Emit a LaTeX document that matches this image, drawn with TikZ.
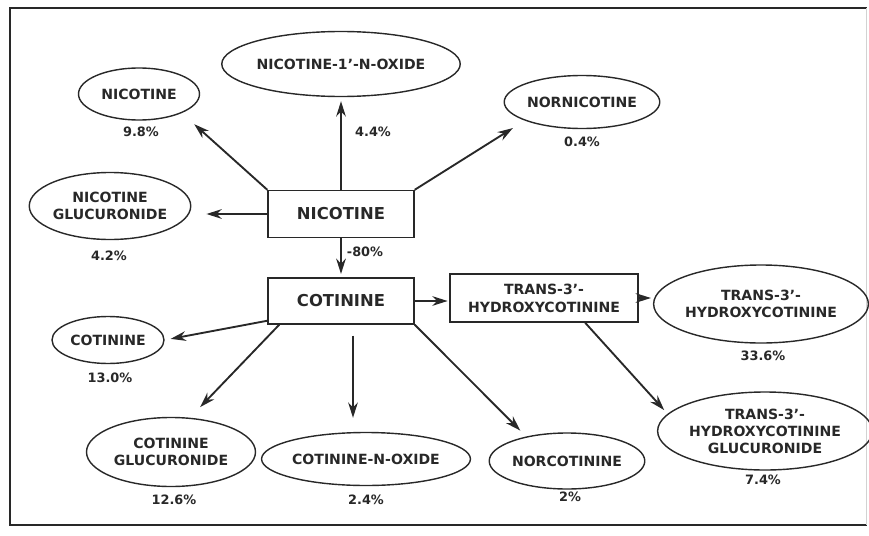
\documentclass[tikz,border=0pt]{standalone}
\usepackage{fontspec}
\setmainfont{DejaVu Sans}
\definecolor{InkGray}{RGB}{40,40,40}
\usepackage{tikz}
\usetikzlibrary{
    shapes.geometric,
    arrows.meta,
    calc,
}

\begin{document}
\begin{tikzpicture}[
    btype/.style 2 args={rectangle, draw=InkGray, line width=1.2pt, minimum width=#1cm, minimum height=#2cm, inner sep=0pt, align=center, text=InkGray},
    etype/.style 2 args={ellipse, draw=InkGray, line width=1.2pt, minimum width=#1cm, minimum height=#2cm, inner sep=0pt, align=center, text=InkGray, font=\bfseries\fontsize{12}{14.5}\selectfont},
    ptype/.style={text=InkGray, font=\bfseries\fontsize{11}{13}\selectfont},
    arr/.style={-{Stealth[length=4.6mm, width=2.9mm]}, draw=InkGray, line width=1.6pt}
]
    \useasboundingbox (0,0) rectangle (26.07,-16.05);
    \draw[InkGray, line width=1.6pt] (26.0,-0.25) -- (0.3,-0.25) -- (0.3,-15.75) -- (26.0,-15.75);
    \draw[gray!35, line width=0.8pt] (26.0,-0.25) -- (26.0,-15.75);

    % main boxes
    \node[btype={4.38}{1.41}, font=\bfseries\fontsize{14}{16}\selectfont] (nic) at (10.23,-6.42) {NICOTINE};
    \node[btype={4.38}{1.38}, font=\bfseries\fontsize{14}{16}\selectfont] (cot) at (10.23,-9.03) {COTININE};
    \node[btype={5.64}{1.44}, font=\bfseries\fontsize{12}{15.5}\selectfont] (thc) at (16.32,-8.94) {TRANS-3'-\\HYDROXYCOTININE};

    % excreted products
    \node[etype={3.63}{1.56}] (nicE)    at ( 4.17, -2.82) {NICOTINE};
    \node[etype={6.33}{1.95}] (nox)     at (10.23, -1.92) {NICOTINE-1'-N-OXIDE};
    \node[etype={4.47}{1.59}] (nornic)  at (17.46, -3.06) {NORNICOTINE};
    \node[etype={4.80}{2.01}] (nicgluc) at ( 3.30, -6.18) {NICOTINE\\GLUCURONIDE};
    \node[etype={3.36}{1.41}] (cotE)    at ( 3.24,-10.20) {COTININE};
    \node[etype={5.07}{2.07}] (cotgluc) at ( 5.13,-13.56) {COTININE\\GLUCURONIDE};
    \node[etype={5.34}{1.59}] (cotox)   at (10.98,-13.77) {COTININE-N-OXIDE};
    \node[etype={4.38}{1.68}] (norcot)  at (17.01,-13.83) {NORCOTININE};
    \node[etype={5.49}{2.34}] (thcE)    at (22.83, -9.12) {TRANS-3'-\\HYDROXYCOTININE};
    \node[etype={5.52}{2.34}] (thcgluc) at (22.95,-12.93) {TRANS-3'-\\HYDROXYCOTININE\\GLUCURONIDE};

    % percentages
    \node[ptype] (pNicE)    at ( 4.23, -3.96) {9.8\%};
    \node[ptype] (pNox)     at (11.19, -3.96) {4.4\%};
    \node[ptype] (pNornic)  at (17.46, -4.26) {0.4\%};
    \node[ptype] (pNicgluc) at ( 3.27, -7.68) {4.2\%};
    \node[ptype] (pCot)     at (10.95, -7.56) {-80\%};
    \node[ptype] (pCotE)    at ( 3.30,-11.34) {13.0\%};
    \node[ptype] (pCotgluc) at ( 5.22,-15.00) {12.6\%};
    \node[ptype] (pCotox)   at (10.98,-15.00) {2.4\%};
    \node[ptype] (pNorcot)  at (17.10,-14.91) {2\%};
    \node[ptype] (pThcE)    at (22.89,-10.68) {33.6\%};
    \node[ptype] (pThcgluc) at (22.89,-14.40) {7.4\%};

    % nicotine arrows
    \draw[arr, shorten >=0.5cm]  (nic.north west) -- (nicE.-24);
    \draw[arr, shorten >=0.12cm] (nic.north) -- (nox.south);
    \draw[arr, shorten >=0.42cm] (nic.north east) -- (nornic.198);
    \draw[arr, shorten >=0.45cm] (nic.west) -- (nic.west -| nicgluc.east);
    \draw[arr, shorten >=0.1cm]  (nic.south) -- (cot.north);

    % cotinine arrows
    \draw[arr, shorten >=0.18cm] (cot.195) -- (cotE.east);
    \draw[arr, shorten >=0.44cm] (cot.201) -- (cotgluc.61);
    \draw[arr, shorten <=0.33cm, shorten >=0.42cm] ([xshift=0.36cm]cot.south) -- ([xshift=0.36cm]cot.south |- cotox.north);
    \draw[arr, shorten >=0.25cm] (cot.south east) -- (norcot.149);
    \draw[arr, shorten >=0.05cm] (cot.east) -- (cot.east -| thc.west);

    % hydroxycotinine arrows
    \draw[arr, shorten >=0.06cm] (thc.east) -- (thc.east -| thcE.west);
    \draw[arr, shorten >=0.15cm] (thc.-31) -- (thcgluc.170);
\end{tikzpicture}
\end{document}
